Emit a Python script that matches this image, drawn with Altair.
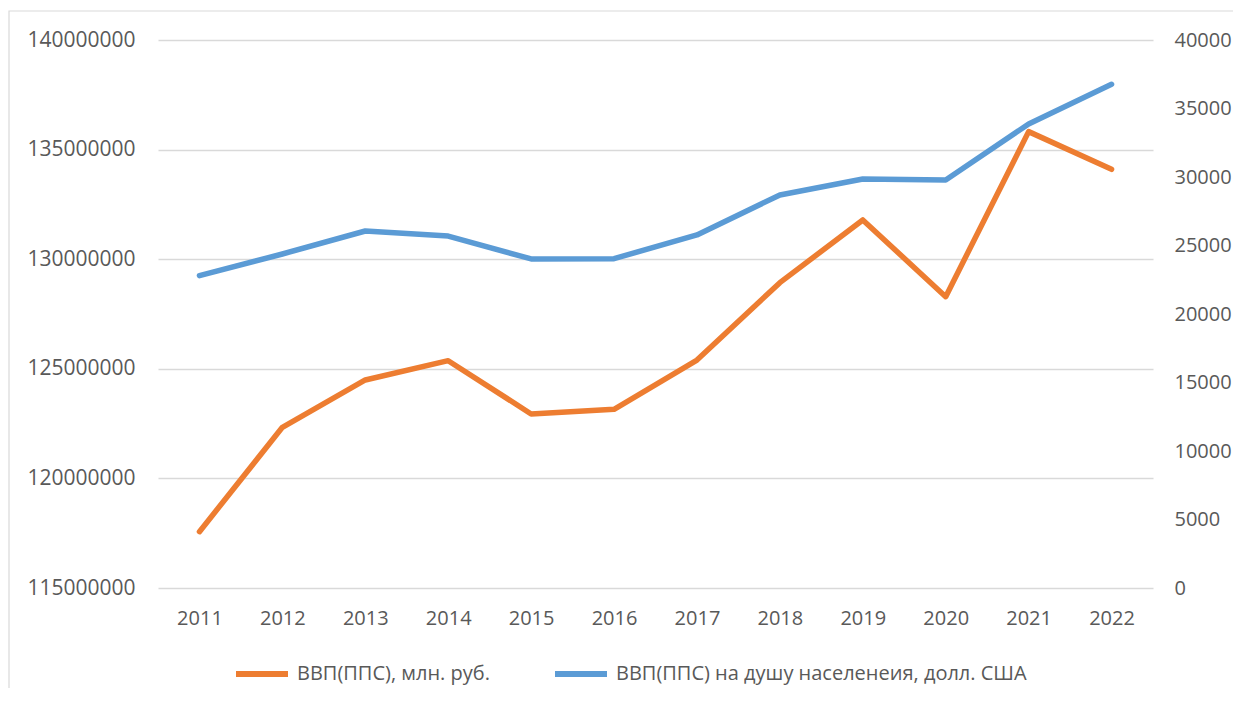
import altair as alt
import pandas as pd

years = [2011, 2012, 2013, 2014, 2015, 2016, 2017, 2018, 2019, 2020, 2021, 2022]
gdp_ppp = [117570000, 122330000, 124490000, 125370000, 122940000, 123150000,
           125400000, 128930000, 131790000, 128290000, 135820000, 134100000]
gdp_ppp_pc = [22800, 24380, 26060, 25690, 24020, 24040,
              25770, 28690, 29850, 29780, 33870, 36770]
series_names = ["ВВП(ППС), млн. руб.", "ВВП(ППС) на душу населенеия, долл. США"]
series_colors = ["#ED7D31", "#5B9BD5"]
left_ticks = [115000000, 120000000, 125000000, 130000000, 135000000, 140000000]
right_ticks = [0, 5000, 10000, 15000, 20000, 25000, 30000, 35000, 40000]

df = pd.DataFrame({"year": [str(y) for y in years], "gdp": gdp_ppp, "gdp_pc": gdp_ppp_pc})

FONT = "Open Sans"
TXT = "#595959"
GRID = "#D9D9D9"

color_scale = alt.Scale(domain=series_names, range=series_colors)
legend = alt.Legend(
    title=None, orient="none", direction="horizontal", legendX=75, legendY=605,
    symbolType="stroke", symbolSize=2704, symbolStrokeWidth=6,
    labelFont=FONT, labelFontSize=20, labelColor=TXT, labelOffset=6, labelLimit=600,
    columnPadding=53, padding=0,
)

x_enc = alt.X(
    "year:O",
    scale=alt.Scale(type="point", padding=0.5),
    axis=alt.Axis(title=None, labelAngle=0, domain=False, ticks=False, grid=False,
                  labelPadding=20, labelFont=FONT, labelFontSize=20, labelColor=TXT),
)

base = alt.Chart(df)

orange = base.transform_calculate(series=f"'{series_names[0]}'").mark_line(
    strokeWidth=5.5, strokeCap="round", strokeJoin="round"
).encode(
    x=x_enc,
    y=alt.Y("gdp:Q",
            scale=alt.Scale(domain=[115000000, 140000000], nice=False, zero=False),
            axis=alt.Axis(title=None, orient="left", values=left_ticks, format="d",
                          domain=False, ticks=False, grid=True, gridColor=GRID, gridWidth=1.3,
                          labelPadding=23, labelFont=FONT, labelFontSize=21, labelColor=TXT)),
    color=alt.Color("series:N", scale=color_scale, legend=legend),
)

blue = base.transform_calculate(series=f"'{series_names[1]}'").mark_line(
    strokeWidth=5.5, strokeCap="round", strokeJoin="round"
).encode(
    x=x_enc,
    y=alt.Y("gdp_pc:Q",
            scale=alt.Scale(domain=[0, 40000], nice=False),
            axis=alt.Axis(title=None, orient="right", values=right_ticks, format="d",
                          domain=False, ticks=False, grid=False,
                          labelPadding=21, labelFont=FONT, labelFontSize=20, labelColor=TXT)),
    color=alt.Color("series:N", scale=color_scale, legend=legend),
)

frame = alt.Chart(alt.Data(values=[{"a": 1}])).mark_rect(
    fill="transparent", stroke=GRID, strokeWidth=1.2
).encode(
    x=alt.value(-149), x2=alt.value(1300), y=alt.value(-29), y2=alt.value(900)
)

chart = alt.layer(frame, blue, orange).resolve_scale(y="independent").properties(
    width=995, height=548,
    autosize=alt.AutoSizeParams(type="none"),
    padding={"left": 150, "top": 32, "right": 80, "bottom": 100},
    background="white",
).configure_view(strokeWidth=0)

chart.save("out.html", embed_options={"renderer": "svg", "actions": False})
